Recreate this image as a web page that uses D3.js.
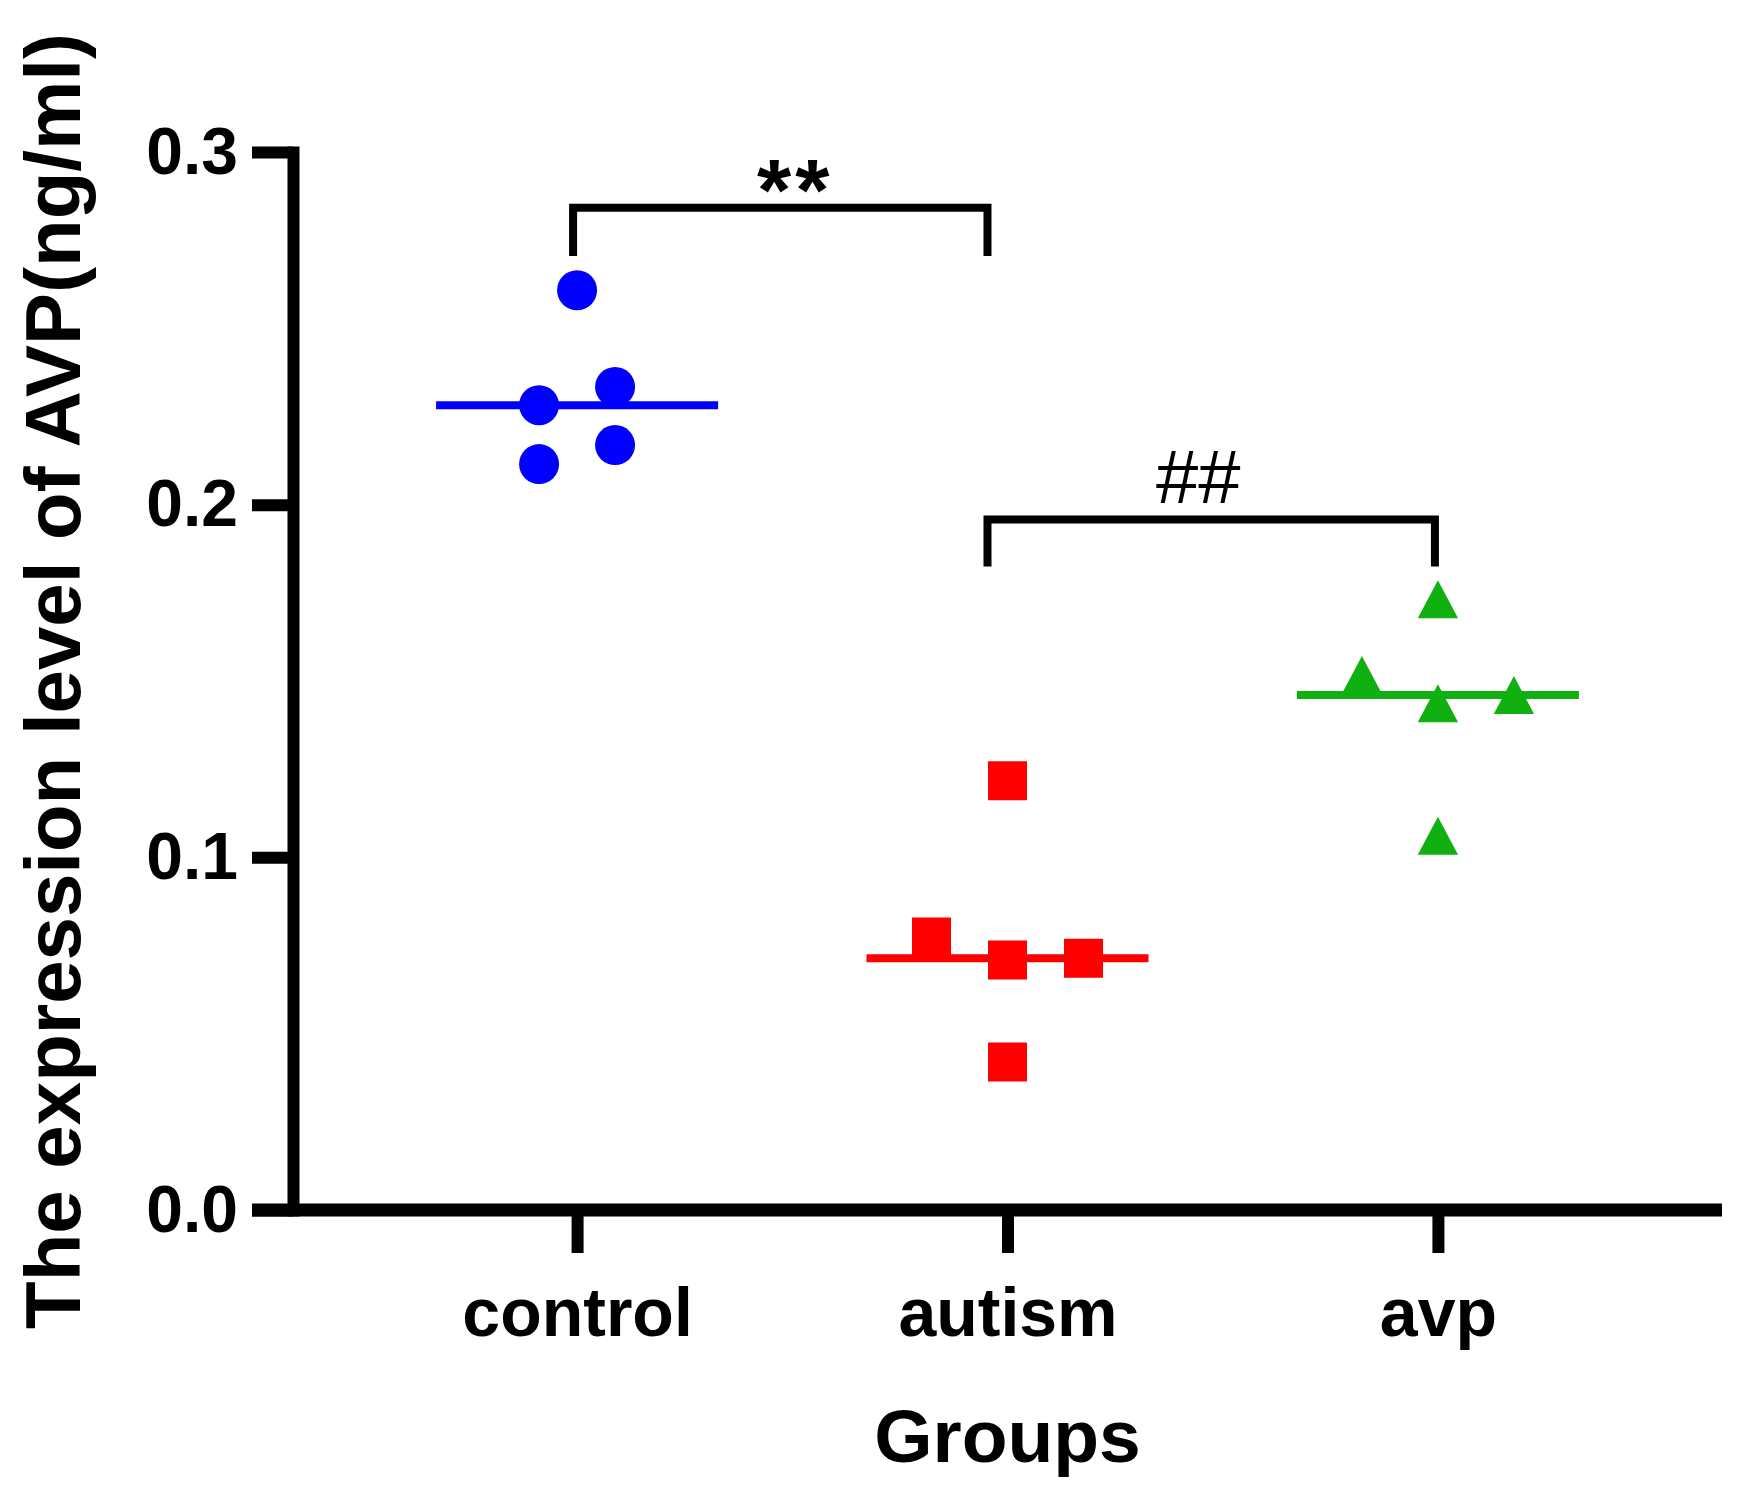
<!DOCTYPE html>
<html>
<head>
<meta charset="utf-8">
<script src="https://cdn.jsdelivr.net/npm/d3@7"></script>
<style>
  body { margin: 0; background: #fff; }
  svg { display: block; font-family: "Liberation Sans", Arial, sans-serif; }
</style>
</head>
<body>
<div class="chart"></div>
<script>
        // data
        var groups = ["control", "autism", "avp"];
        var controlValues = [0.2608, 0.2282, 0.2334, 0.2115, 0.2169];
        var autismValues = [0.1217, 0.0774, 0.0709, 0.0714, 0.0420];
        var avpValues = [0.1732, 0.1517, 0.1437, 0.1460, 0.1061];
        var yTicks = [0, 0.1, 0.2, 0.3];
        // significance brackets: from, to, label, top level, leg end level
        var comparisons = [["control", "autism", "**"], ["autism", "avp", "##"]];
        var bracketTops = [0.2842, 0.1958];
        var bracketLegs = [0.2705, 0.1825];

        var groupColors = ["#0000ff", "#ff0000", "#10b010"];
        var groupValues = [controlValues, autismValues, avpValues];

        var width = 1750, height = 1500;
        var plotLeft = 293, plotRight = 1722, plotTop = 152, plotBottom = 1210;

        var svg = d3.select(".chart")
            .append("svg")
            .attr("width", width)
            .attr("height", height);

        var x = d3.scalePoint()
            .domain(groups)
            .range([plotLeft, plotRight])
            .padding(0.66);

        var y = d3.scaleLinear()
            .domain([0, 0.3])
            .range([plotBottom, plotTop]);

        var colors = d3.scaleOrdinal()
            .domain(groups)
            .range(groupColors);

        //y axis
        var gy = svg.append("g")
            .attr("transform", "translate(" + plotLeft + ",0)")
            .call(d3.axisLeft(y)
                .tickValues(yTicks)
                .tickFormat(d3.format(".1f"))
                .tickSize(41)
                .tickSizeOuter(0)
                .tickPadding(14));
        gy.select(".domain")
            .attr("stroke-width", 12)
            .attr("stroke-linecap", "square");
        gy.selectAll(".tick line").attr("stroke-width", 12);
        gy.selectAll(".tick text")
            .attr("font-size", "66px")
            .attr("font-weight", "bold")
            .attr("fill", "#000");

        //x axis
        var gx = svg.append("g")
            .attr("transform", "translate(0," + plotBottom + ")")
            .call(d3.axisBottom(x)
                .tickSize(43)
                .tickPadding(35));
        gx.select(".domain").remove();
        gx.append("line")
            .attr("x1", plotLeft - 41)
            .attr("x2", plotRight)
            .attr("stroke", "#000")
            .attr("stroke-width", 13);
        gx.selectAll(".tick line").attr("stroke-width", 12);
        gx.selectAll(".tick text")
            .attr("font-size", "68px")
            .attr("font-weight", "bold")
            .attr("fill", "#000");

        //axis titles
        svg.append("text")
            .attr("x", (plotLeft + plotRight) / 2)
            .attr("y", 1462)
            .attr("text-anchor", "middle")
            .attr("font-size", "75px")
            .attr("font-weight", "bold")
            .text("Groups");

        svg.append("text")
            .attr("transform", "translate(80," + (plotTop + plotBottom) / 2 + ") rotate(-90)")
            .attr("text-anchor", "middle")
            .attr("font-size", "78px")
            .attr("font-weight", "bold")
            .text("The expression level of AVP(ng/ml)");

        //spread points that would overlap into centred rows
        function spread(values) {
            var px = values.map(function (v) { return y(v) });
            var order = d3.range(values.length).sort(function (a, b) { return px[a] - px[b] });
            var rows = [], cur = [];
            order.forEach(function (i) {
                if (cur.length && px[i] - px[cur[cur.length - 1]] > 36) {
                    rows.push(cur);
                    cur = [];
                }
                cur.push(i);
            });
            rows.push(cur);
            var dx = [];
            rows.forEach(function (row) {
                row.sort(d3.ascending);
                row.forEach(function (i, k) { dx[i] = (k - (row.length - 1) / 2) * 76 });
            });
            return dx;
        }

        // triangle centred on its bounding box, like the original markers
        var boxTriangle = {
            draw: function (context, size) {
                var s = Math.sqrt(size);
                context.moveTo(0, -s / 2);
                context.lineTo(s * 0.53, s / 2);
                context.lineTo(-s * 0.53, s / 2);
                context.closePath();
            }
        };
        var symbols = [
            d3.symbol().type(d3.symbolCircle).size(Math.PI * 400),
            d3.symbol().type(d3.symbolSquare).size(39 * 39),
            d3.symbol().type(boxTriangle).size(38 * 38)
        ];

        groups.forEach(function (g, gi) {
            var values = groupValues[gi];
            var dx = spread(values);
            var points = values.map(function (v, i) { return { group: g, value: v, dx: dx[i] } });

            svg.append("line")
                .attr("x1", x(g) - 141)
                .attr("x2", x(g) + 141)
                .attr("y1", y(d3.median(values)))
                .attr("y2", y(d3.median(values)))
                .attr("stroke", colors(g))
                .attr("stroke-width", 8);

            svg.selectAll(".pt-" + g)
                .data(points)
                .join("path")
                .attr("class", "pt-" + g)
                .attr("d", symbols[gi])
                .attr("transform", function (d) {
                    return "translate(" + (x(d.group) + d.dx) + "," + y(d.value) + ")";
                })
                .attr("fill", function (d) { return colors(d.group) });
        });

        //significance brackets (legs sit a little left of the group centres in the original)
        var legShift = { control: -4, autism: -20, avp: -3 };
        comparisons.forEach(function (c, i) {
            var x1 = x(c[0]) + legShift[c[0]], x2 = x(c[1]) + legShift[c[1]];
            var yt = y(bracketTops[i]), yl = y(bracketLegs[i]);
            svg.append("path")
                .attr("d", "M" + x1 + "," + yl + "V" + yt + "H" + x2 + "V" + yl)
                .attr("fill", "none")
                .attr("stroke", "#000")
                .attr("stroke-width", 8);
            var star = c[2] == "**";
            svg.append("text")
                .attr("x", (x1 + x2) / 2 + (star ? 15 : -13))
                .attr("y", star ? yt + 12 : yt - 16)
                .attr("text-anchor", "middle")
                .attr("font-size", star ? "88px" : "76px")
                .attr("font-weight", star ? "bold" : "normal")
                .attr("letter-spacing", star ? "4px" : "0px")
                .text(c[2]);
        });
</script>
</body>
</html>
